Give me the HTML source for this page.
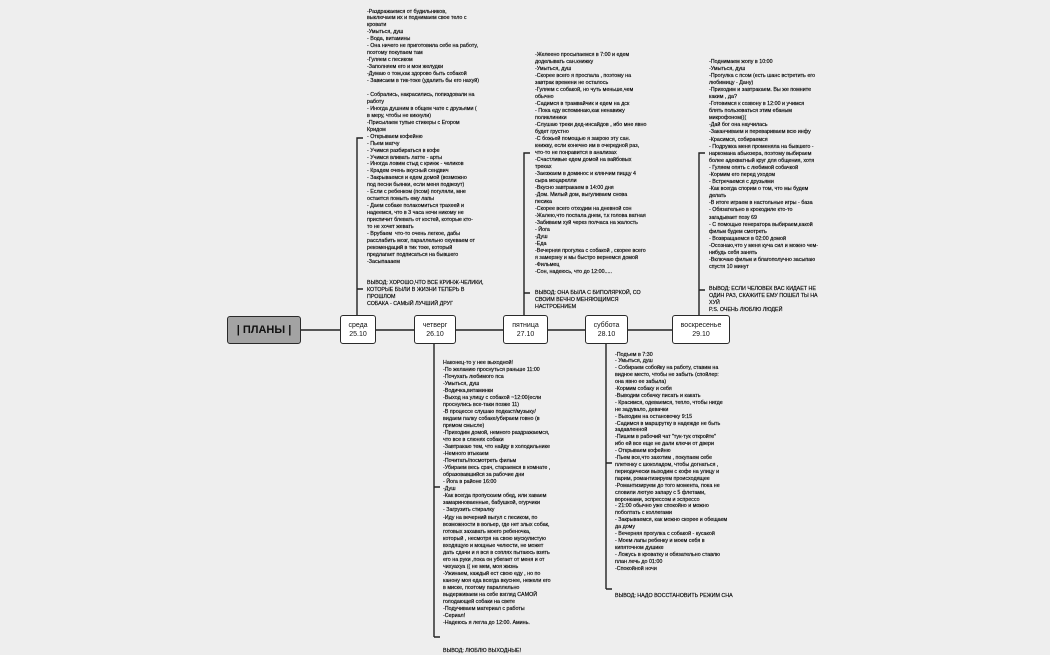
<!DOCTYPE html>
<html><head><meta charset="utf-8">
<style>
html,body{margin:0;padding:0}
body{width:1050px;height:650px;background:#eeeeee;position:relative;overflow:hidden;font-family:"Liberation Sans","DejaVu Sans",sans-serif;color:#000}
.t{position:absolute;font-size:5.35px;line-height:7px;white-space:pre;-webkit-text-stroke:0.15px #000}
.n{position:absolute;box-sizing:border-box;border:1.5px solid #2a2a2a;border-radius:3px;background:#fff;font-size:7px;line-height:9px;text-align:center;display:flex;align-items:center;justify-content:center;color:#111}
svg{position:absolute;left:0;top:0}
</style></head><body>
<svg width="1050" height="650">
<g stroke="#222" stroke-width="1.4" fill="none">
<line x1="300" y1="330" x2="672" y2="330"/>
<path d="M363 138 H357 V315 M357 289 H363"/>
<path d="M440 487 H434 V343 M434 637 V487 M434 637 H440"/>
<path d="M530 153 H524 V315 M524 293 H530"/>
<path d="M612 463 H606 V343 M606 589 V463 M606 589 H612"/>
<path d="M705 153 H699 V315 M699 290 H705"/>
</g>
</svg>
<div class="n" style="left:227px;top:316px;width:74px;height:28px;background:#a3a3a3;font-size:11px;font-weight:bold;">| ПЛАНЫ |</div>
<div class="n" style="left:340px;top:315px;width:36px;height:29px;">среда<br>25.10</div>
<div class="n" style="left:414px;top:315px;width:42px;height:29px;">четверг<br>26.10</div>
<div class="n" style="left:503px;top:315px;width:45px;height:29px;">пятница<br>27.10</div>
<div class="n" style="left:585px;top:315px;width:43px;height:29px;">суббота<br>28.10</div>
<div class="n" style="left:672px;top:315px;width:58px;height:29px;">воскресенье<br>29.10</div>

<div class="t" style="left:367px;top:8.5px;line-height:6.95px">-Раздражаемся от будильников,
выключаем их и поднимаем свое тело с
кровати
-Умыться, душ
- Вода, витамины
- Она ничего не приготовила себе на работу,
поэтому покупаем там
-Гуляем с песиком
-Заполняем его и мои желудки
-Думаю о том,как здорово быть собакой
- Зависаем в тик-токе (удалить бы его нахуй)

- Собрались, накрасились, попиздовали на
работу
- Иногда душним в общем чате с друзьями (
в меру, чтобы не кикнули)
-Присылаем тупые стикеры с Егором
Кридом
- Открываем кофейню
- Пьем матчу
- Учимся разбираться в кофе
- Учимся вливать латте - арты
- Иногда ловим стыд с кринж - челиков
- Крадем очень вкусный сендвич
- Закрываемся и едем домой (возможно
под песни бьянки, если меня подвезут)
- Если с ребенком (псом) погуляли, мне
остается помыть ему лапы
- Даем собаке полакомиться трахеей и
надеемся, что в 3 часа ночи никому не
приспичит блевать от костей, которые кто-
то не хочет жевать
- Врубаем  что-то очень легкое, дабы
расслабить мозг, параллельно охуеваем от
рекомендаций в тик токе, который
предлагает подписаться на бывшего
-Засыпаааем


ВЫВОД: ХОРОШО,ЧТО ВСЕ КРИНЖ-ЧЕЛИКИ,
КОТОРЫЕ БЫЛИ В ЖИЗНИ ТЕПЕРЬ В
ПРОШЛОМ
СОБАКА - САМЫЙ ЛУЧШИЙ ДРУГ</div>

<div class="t" style="left:443px;top:359.5px;line-height:7.05px">Наконец-то у нее выходной!
-По желанию проснуться раньше 11:00
-Почухать любимого пса
-Умыться, душ
-Водичка,витаминки
-Выход на улицу с собакой ~12:00(если
проснулись все-таки позже 11)
-В процессе слушаю подкаст/музыку/
видаем палку собаке/убираем говно (в
прямом смысле)
-Приходим домой, немного раздражаемся,
что все в слюнях собаки
-Завтракаю тем, что найду в холодильнике
-Немного втыкаем
-Почитать/посмотреть фильм
-Убираем весь срач, стараемся в комнате ,
образовавшийся за рабочие дни
- Йога в районе 16:00
-Душ
-Как всегда пропускаем обед, или хаваем
замариноваенные, бабушкой, огурчики
- Загрузить стиралку
-Иду на вечерний выгул с песиком, по
возможности в вольер, где нет злых собак,
готовых захавать моего ребеночка,
который , несмотря на свою мускулистую
входящую и мощные челюсти, не может
дать сдачи и я вся в соплях пытаюсь взять
его на руки ,пока он убегает от меня и от
чихуахуа (( не мем, моя жизнь
-Ужинаем, каждый ест свою еду , но по
канону моя еда всегда вкуснее, нежели его
в миске, поэтому параллельно
выдерживаем на себе взгляд САМОЙ
голодающей собаки на свете
-Подучиваем материал с работы
-Сериал!
-Надеюсь я легла до 12:00. Аминь.



ВЫВОД: ЛЮБЛЮ ВЫХОДНЫЕ!</div>

<div class="t" style="left:535px;top:51.5px;line-height:7px">-Желеено просыпаемся в 7:00 и едем
доделывать сан.книжку
-Умыться, душ
-Скорее всего я проспала , поэтому на
завтрак времени не осталось
-Гуляем с собакой, но чуть меньше,чем
обычно
-Садимся в трамвайчик и едем на дск
- Пока еду вспоминаю,как ненавижу
поликлиники
-Слушаю треки дед-инсайдов , ибо мне явно
будет грустно
-С божьей помощью я закрою эту сан.
книжку, если конечно им в очередной раз,
что-то не понравится в анализах
-Счастливые едем домой на вайбовых
треках
-Заезжаем в доминос и клянчим пиццу 4
сыра моцарелли
-Вкусно завтракаем в 14:00 дня
-Дом. Милый дом, выгуливаем снова
песика
-Скорее всего отходим на дневной сон
-Жалею,что поспала днем, т.к голова ватная
-Забиваем хуй через полчаса на жалость
- Йога
-Душ
-Еда
-Вечерняя прогулка с собакой , скорее всего
я замерзну и мы быстро вернемся домой
-Фильмец
-Сон, надеюсь, что до 12:00.....


ВЫВОД: ОНА БЫЛА С БИПОЛЯРКОЙ, СО
СВОИМ ВЕЧНО МЕНЯЮЩИМСЯ
НАСТРОЕНИЕМ</div>

<div class="t" style="left:615px;top:351.5px;line-height:6.9px">-Подъем в 7:30
- Умыться, душ
- Собираем собойку на работу, ставим на
видное место, чтобы не забыть (спойлер:
она явно ее забыла)
-Кормим собаку и себя
-Выводим собачку писать и какать
- Красимся, одеваемся, тепло, чтобы нигде
не задувало, девачки
- Выходим на остановочку 9:15
-Садимся в маршрутку в надежде не быть
задавленной
-Пишем в рабочий чат "тук-тук откройте"
ибо ей все еще не дали ключи от двери
- Открываем кофейню
-Пьем все,что захотим , покупаем себе
плетенку с шоколадом, чтобы догнаться ,
периодически выходим с кофе на улицу и
парим, романтизируем происходящее
-Романтизируем до того момента, пока не
словили лютую запару с 5 флетами,
воронками, эспрессом и эспрессо
- 21:00 обычно уже спокойно и можно
поболтать с коллегами
- Закрываемся, как можно скорее и обещаем
да дому
- Вечерняя прогулка с собакой - кусакой
- Моем лапы ребенку и моем себя в
кипяточном душике
- Ложусь в кроватку и обязательно ставлю
план лечь до 01:00
-Спокойной ночи



ВЫВОД: НАДО ВОССТАНОВИТЬ РЕЖИМ СНА</div>

<div class="t" style="left:709px;top:58.5px;line-height:7.1px">-Поднимаем жопу в 10:00
-Умыться, душ
-Прогулка с псом (есть шанс встретить его
любимицу - Дану)
-Приходим и завтракаем. Вы же помните
каким , да?
-Готовимся к созвону в 12:00 и учимся
блять пользоваться этим ебаным
микрофоном(((
-Дай бог она научилась
-Заканчиваем и перевариваем всю инфу
-Красимся, собираемся
- Подружка меня променяла на бывшего -
наркомана абьюзера, поэтому выбираем
более адекватный круг для общения, хотя
- Гуляем опять с любимой собачкой
-Кормим его перед уходом
- Встречаемся с друзьями
-Как всегда спорим о том, что мы будем
делать
-В итоге играем в настольные игры - база
- Обязательно в крокодиле кто-то
загадывает позу 69
- С помощью генератора выбираем,какой
фильм будем смотреть
- Возвращаемся в 02:00 домой
-Осознаю,что у меня куча сил и можно чем-
нибудь себя занять
-Включаю фильм и благополучно засыпаю
спустя 10 минут


ВЫВОД: ЕСЛИ ЧЕЛОВЕК ВАС КИДАЕТ НЕ
ОДИН РАЗ, СКАЖИТЕ ЕМУ ПОШЕЛ ТЫ НА
ХУЙ
P.S. ОЧЕНЬ ЛЮБЛЮ ЛЮДЕЙ</div>
</body></html>
